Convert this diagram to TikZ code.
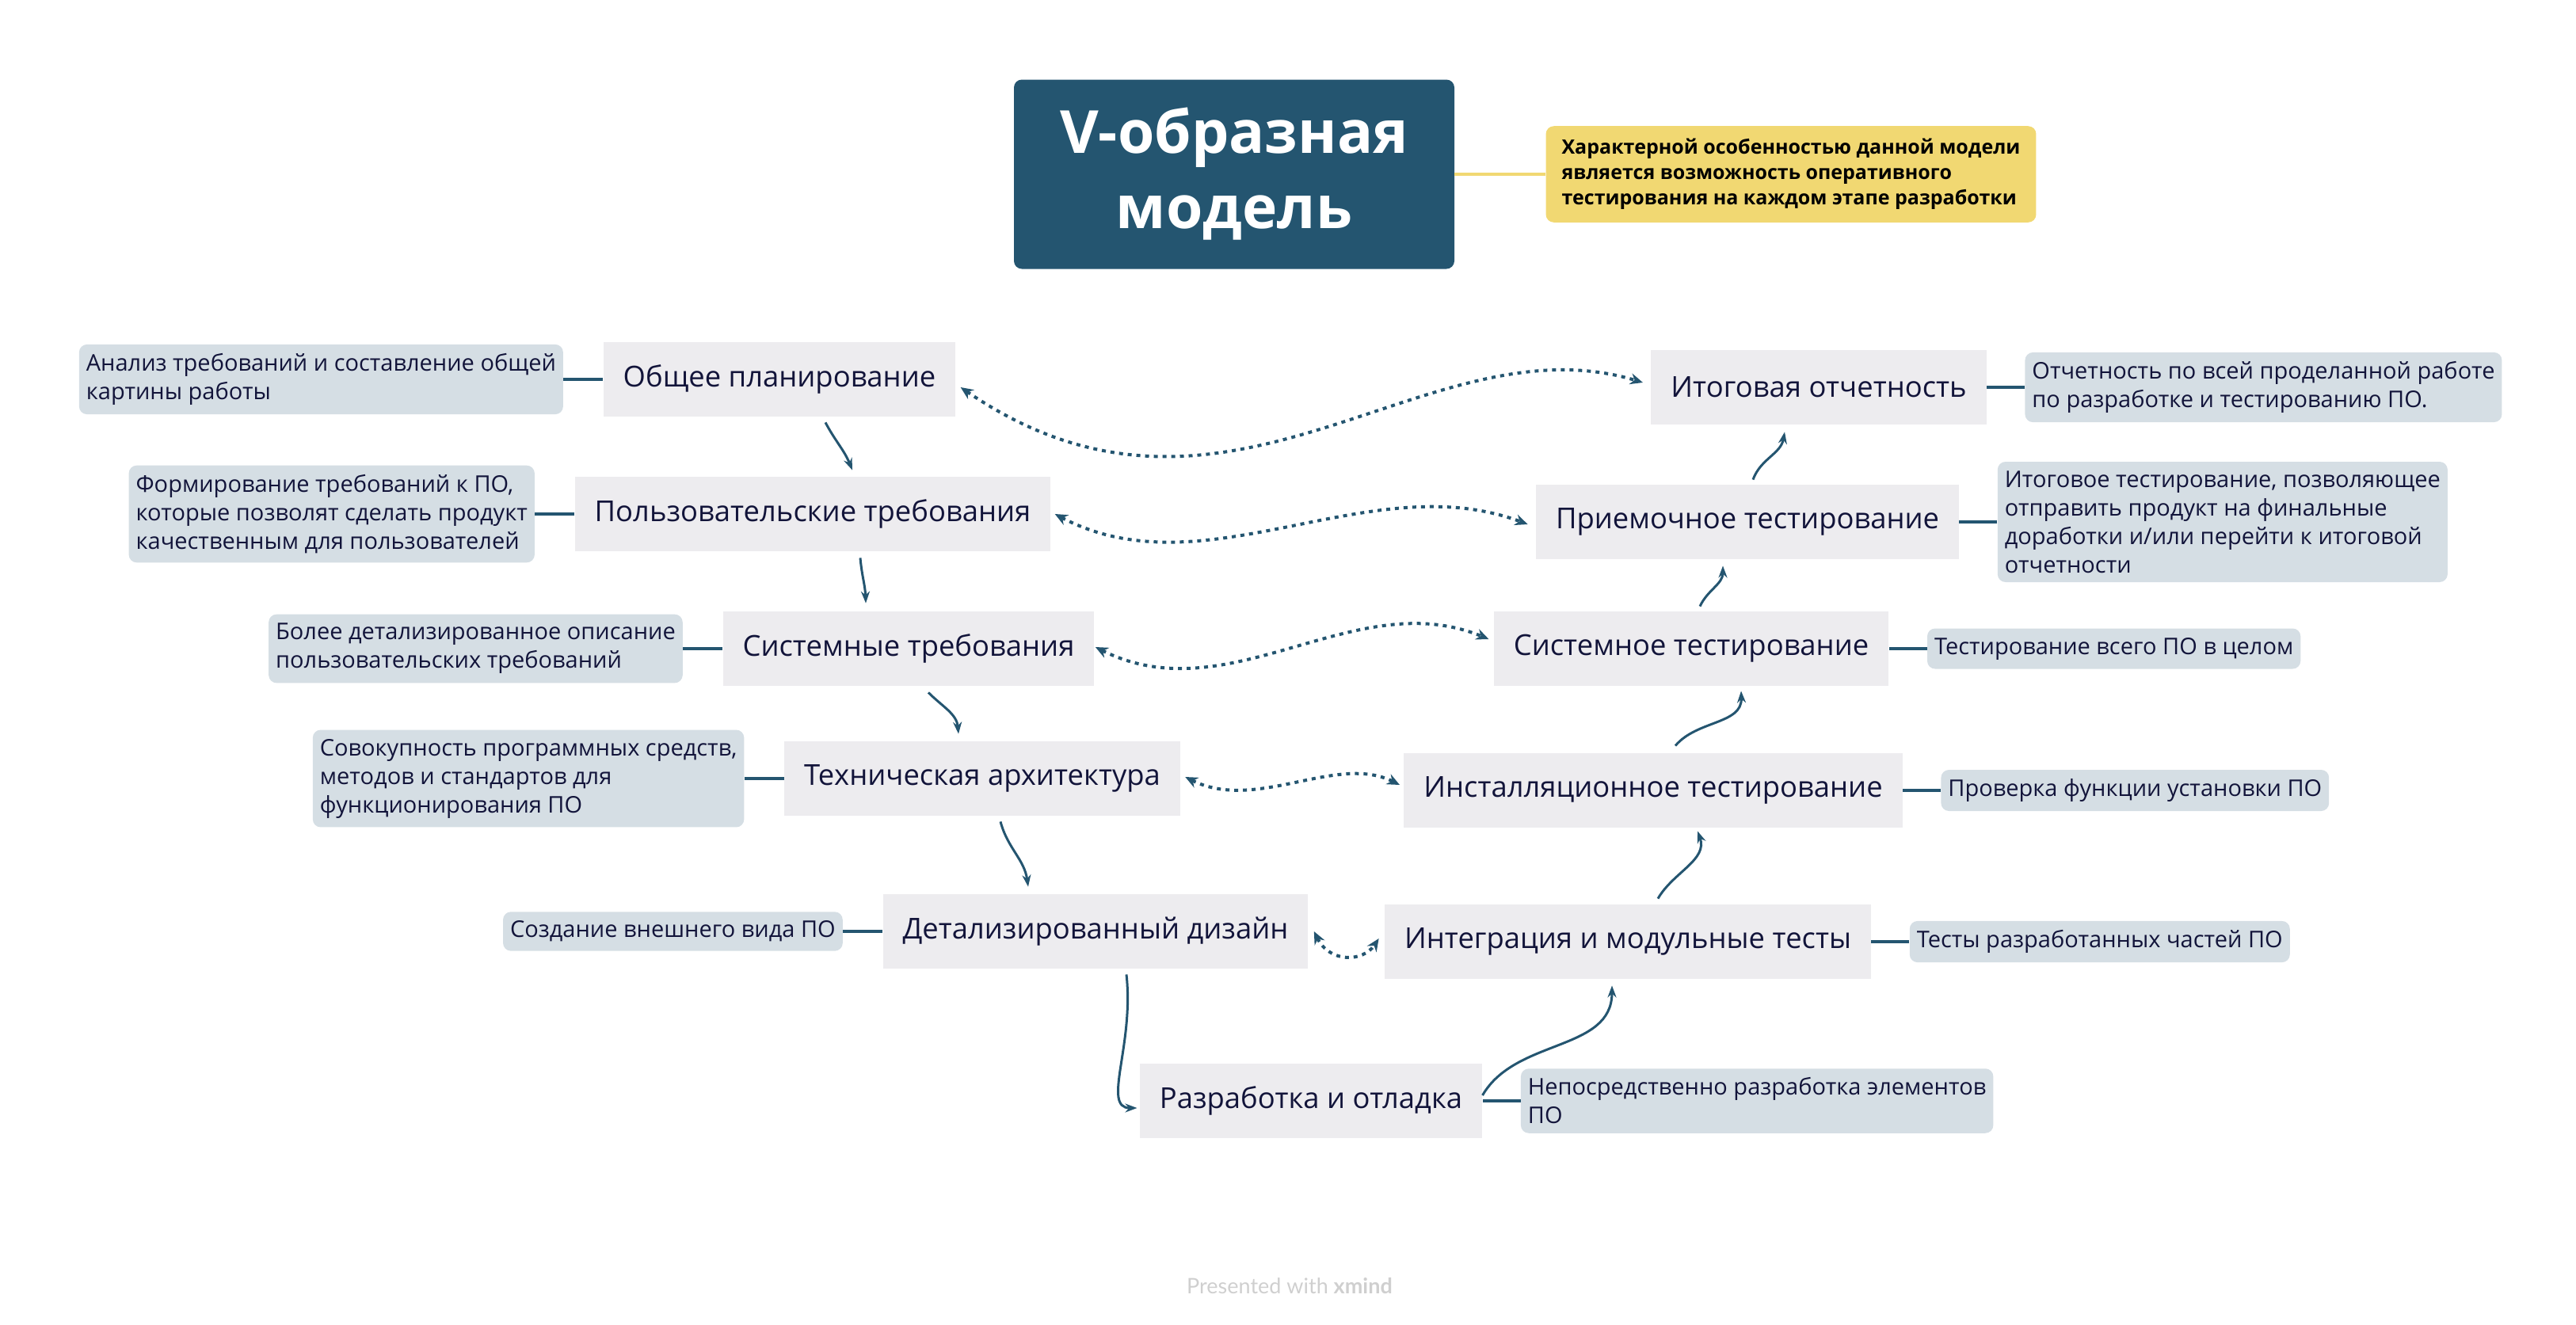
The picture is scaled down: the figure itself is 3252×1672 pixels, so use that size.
\documentclass[tikz,border=0pt]{standalone}
\usepackage{fontspec}
\setmainfont{Open Sans}
\newfontfamily\markfont{Lato}
\usetikzlibrary{arrows.meta, positioning, calc}
\definecolor{navy}{HTML}{245570}
\definecolor{ink}{HTML}{12143A}
\definecolor{stagefill}{HTML}{EDECEF}
\definecolor{notefill}{HTML}{D5DEE4}
\definecolor{remarkfill}{HTML}{F1D872}
\definecolor{markgray}{HTML}{CFCFCF}

\begin{document}
\begin{tikzpicture}[x=0.5pt,y=-0.5pt,>={Stealth[length=7.5pt,width=5.5pt]},
  main node/.style={rectangle,fill=stagefill,text=ink,font=\fontsize{18.2}{23}\selectfont,minimum height=47pt,inner xsep=12.5pt},
  note node/.style={rectangle,rounded corners=5pt,fill=notefill,text=ink,font=\fontsize{14.5}{18}\selectfont,align=left,inner xsep=4.5pt,inner ysep=5.75pt},
  title node/.style={rectangle,rounded corners=5pt,fill=navy,text=white,font=\bfseries\fontsize{37.5}{47.5}\selectfont,align=center,minimum width=278pt,minimum height=119.5pt},
  remark node/.style={rectangle,rounded corners=5pt,fill=remarkfill,text=black,font=\bfseries\fontsize{12.5}{16}\selectfont,align=left,inner xsep=10pt,inner ysep=8pt},
  link/.style={draw=navy,line width=2pt},
  flow/.style={->,draw=navy,line width=1.5pt},
  pair/.style={<->,draw=navy,line width=2pt,dash pattern=on 2.5pt off 3pt,>={Stealth[length=8pt,width=7pt]}}]
  \useasboundingbox (0,0) rectangle (3252,1672);

  % Заголовок и примечание
  \node[title node] (t) at (1558,220) {V-образная\\модель};
  \node[remark node] (r) at (2261,220) {Характерной особенностью данной модели\\является возможность оперативного\\тестирования на каждом этапе разработки};
  \draw[draw=remarkfill,line width=2pt] (t) -- (r);

  % Этапы разработки (левая ветвь)
  \node[main node] (1) at (984,479) {Общее планирование};
  \node[main node] (2) at (1026,649) {Пользовательские требования};
  \node[main node] (3) at (1147,819) {Системные требования};
  \node[main node] (4) at (1240,983) {Техническая архитектура};
  \node[main node] (5) at (1383,1176) {Детализированный дизайн};
  \node[main node] (6) at (1655,1390) {Разработка и отладка};

  % Этапы тестирования (правая ветвь)
  \node[main node] (7) at (2055,1189) {Интеграция и модульные тесты};
  \node[main node] (8) at (2087,998) {Инсталляционное тестирование};
  \node[main node] (9) at (2135,819) {Системное тестирование};
  \node[main node] (10) at (2206,659) {Приемочное тестирование};
  \node[main node] (11) at (2296,489) {Итоговая отчетность};

  % Пояснения
  \node[note node,left=25pt of 1] (d1) {Анализ требований и составление общей\\картины работы};
  \node[note node,left=25pt of 2] (d2) {Формирование требований к ПО,\\которые позволят сделать продукт\\качественным для пользователей};
  \node[note node,left=25pt of 3] (d3) {Более детализированное описание\\пользовательских требований};
  \node[note node,left=25pt of 4] (d4) {Совокупность программных средств,\\методов и стандартов для\\функционирования ПО};
  \node[note node,left=25pt of 5] (d5) {Создание внешнего вида ПО};
  \node[note node,right=24pt of 6] (d6) {Непосредственно разработка элементов\\ПО};
  \node[note node,right=24pt of 7] (d7) {Тесты разработанных частей ПО};
  \node[note node,right=24pt of 8] (d8) {Проверка функции установки ПО};
  \node[note node,right=24pt of 9] (d9) {Тестирование всего ПО в целом};
  \node[note node,right=24pt of 10] (d10) {Итоговое тестирование, позволяющее\\отправить продукт на финальные\\доработки и/или перейти к итоговой\\отчетности};
  \node[note node,right=24pt of 11] (d11) {Отчетность по всей проделанной работе\\по разработке и тестированию ПО.};
  \foreach \i in {1,...,11}
    \draw[link] (d\i) -- (\i);

  % Переходы между этапами
  \draw[flow] ($(1.south)+(58,7)$) to[out=-62,in=112] ($(2.north)+(50,-8)$);
  \draw[flow] ($(2.south)+(60,8)$) to[out=-85,in=92] ($(3.north)+(-54,-10)$);
  \draw[flow] ($(3.south)+(25,8)$) to[out=-45,in=95] ($(4.north)+(-30,-9)$);
  \draw[flow] ($(4.south)+(23,7)$) to[out=-75,in=98] ($(5.north)+(-85,-9)$);
  \draw[flow] ($(5.south)+(39,7)$) .. controls +(10,90) and +(-45,0) .. ($(6.west)+(-3,9)$);
  \draw[flow] ($(6.east)+(0,-7)$) to[out=60,in=-90] ($(7.south)+(-20,8)$);
  \draw[flow] ($(7.north)+(38,-7)$) to[out=60,in=-70] ($(8.south)+(56,4)$);
  \draw[flow] ($(8.north)+(28,-9)$) to[out=50,in=-88] ($(9.south)+(63,6)$);
  \draw[flow] ($(9.north)+(11,-6)$) to[out=65,in=-90] ($(10.south)+(-31,8)$);
  \draw[flow] ($(10.north)+(7,-6)$) to[out=70,in=-100] ($(11.south)+(-43,9)$);

  % Связи разработки и тестирования
  \draw[pair] ($(1.east)+(6,10)$) .. controls +(338,231) and +(-275,-83) .. ($(11.west)+(-10,-6)$);
  \draw[pair] ($(2.east)+(5,0)$) .. controls +(190,100) and +(-200,-75) .. ($(10.west)+(-10,3)$);
  \draw[pair] ($(3.east)+(1,-2)$) .. controls +(170,85) and +(-170,-70) .. ($(9.west)+(-6,-12)$);
  \draw[pair] ($(4.east)+(6,-2)$) .. controls +(90,45) and +(-80,-40) .. ($(8.west)+(-5,-7)$);
  \draw[pair] ($(5.east)+(7,0)$) .. controls +(20,40) and +(-20,30) .. ($(7.west)+(-7,-4)$);

  \node[font=\markfont\fontsize{13.5}{16}\selectfont,text=markgray] (w) at (1628,1624) {Presented with \textbf{xmind}};
\end{tikzpicture}
\end{document}
